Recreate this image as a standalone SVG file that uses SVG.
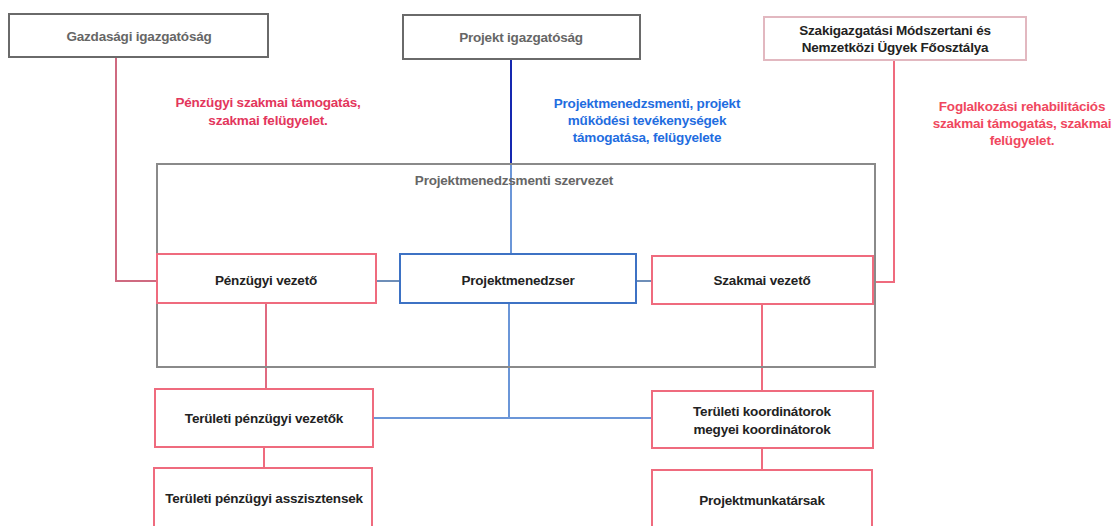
<svg xmlns="http://www.w3.org/2000/svg" width="1118" height="526" viewBox="0 0 1118 526">
<style>
text{font-family:"Liberation Sans",Arial,sans-serif;font-weight:bold;font-size:13.5px;text-anchor:middle;letter-spacing:-0.2px}
.t{fill:#222}
.g{fill:#666}
.red{fill:#e3365c}
.red2{fill:#f0475e}
.blue{fill:#1f6de0}
.box{fill:#fff;stroke-width:2}
.grayb{stroke:#6a6a6a}
.pink{stroke:#ef6b7e}
.pinkl{stroke:#e2b8c0;stroke-width:2}
.blueb{stroke:#3d72c4}
.c{fill:none;stroke-width:2}
</style>
<rect width="1118" height="526" fill="#fff"/>
<g id="connectors">
<polyline class="c" points="116,57 116,281 157,281" stroke="#cf6a80"/>
<polyline class="c" points="894,60 894,282 873,282" stroke="#ef6b7e"/>
<line class="c" x1="511" y1="59" x2="511" y2="165" stroke="#1528b0"/>
<line class="c" x1="511" y1="165" x2="511" y2="254" stroke="#6b96d8"/>
<line class="c" x1="376" y1="281" x2="400" y2="281" stroke="#6e8eb8"/>
<line class="c" x1="636" y1="281" x2="652" y2="281" stroke="#6e8eb8"/>
<line class="c" x1="266" y1="303" x2="266" y2="389" stroke="#e06a80"/>
<line class="c" x1="264" y1="447" x2="264" y2="468" stroke="#ef6b7e"/>
<polyline class="c" points="509,303 509,418" stroke="#6b96d8"/>
<line class="c" x1="373" y1="418" x2="652" y2="418" stroke="#6b96d8"/>
<line class="c" x1="762" y1="304" x2="762" y2="391" stroke="#ef6b7e"/>
<line class="c" x1="762" y1="448" x2="762" y2="470" stroke="#ef6b7e"/>
</g>
<g id="org">
<rect x="157" y="164" width="718" height="203" fill="none" stroke="#8a8a8a" stroke-width="2"/>
<text class="g" x="514" y="185">Projektmenedzsmenti szervezet</text>
</g>
<g id="gazd">
<rect class="box grayb" x="9" y="14" width="259" height="43"/>
<text class="g" x="139" y="41">Gazdasági igazgatóság</text>
</g>
<g id="projig">
<rect class="box grayb" x="403" y="15" width="237" height="44"/>
<text class="g" x="521" y="42">Projekt igazgatóság</text>
</g>
<g id="szakig">
<rect class="box pinkl" x="764" y="17" width="262" height="43"/>
<text class="t" x="895" y="35">Szakigazgatási Módszertani és</text>
<text class="t" x="895" y="52">Nemzetközi Ügyek Főosztálya</text>
</g>
<g id="label1">
<text class="red" x="268" y="107">Pénzügyi szakmai támogatás,</text>
<text class="red" x="268" y="125">szakmai felügyelet.</text>
</g>
<g id="label2">
<text class="blue" x="647" y="108">Projektmenedzsmenti, projekt</text>
<text class="blue" x="647" y="125">működési tevékenységek</text>
<text class="blue" x="647" y="142">támogatása, felügyelete</text>
</g>
<g id="label3">
<text class="red2" x="1022" y="111">Foglalkozási rehabilitációs</text>
<text class="red2" x="1022" y="128">szakmai támogatás, szakmai</text>
<text class="red2" x="1022" y="145">felügyelet.</text>
</g>
<g id="penzugyi">
<rect class="box pink" x="157" y="254" width="219" height="49"/>
<text class="t" x="266" y="285">Pénzügyi vezető</text>
</g>
<g id="pm">
<rect class="box blueb" x="400" y="254" width="236" height="49"/>
<text class="t" x="518" y="285">Projektmenedzser</text>
</g>
<g id="szakmai">
<rect class="box pink" x="652" y="256" width="221" height="48"/>
<text class="t" x="762" y="285">Szakmai vezető</text>
</g>
<g id="terpv">
<rect class="box pink" x="155" y="389" width="218" height="58"/>
<text class="t" x="264" y="423">Területi pénzügyi vezetők</text>
</g>
<g id="terpa">
<rect class="box pink" x="154" y="468" width="218" height="70"/>
<text class="t" x="264" y="503">Területi pénzügyi asszisztensek</text>
</g>
<g id="terkoord">
<rect class="box pink" x="652" y="391" width="221" height="57"/>
<text class="t" x="762" y="416">Területi koordinátorok</text>
<text class="t" x="762" y="434">megyei koordinátorok</text>
</g>
<g id="pmunk">
<rect class="box pink" x="652" y="470" width="220" height="70"/>
<text class="t" x="762" y="505">Projektmunkatársak</text>
</g>
</svg>
